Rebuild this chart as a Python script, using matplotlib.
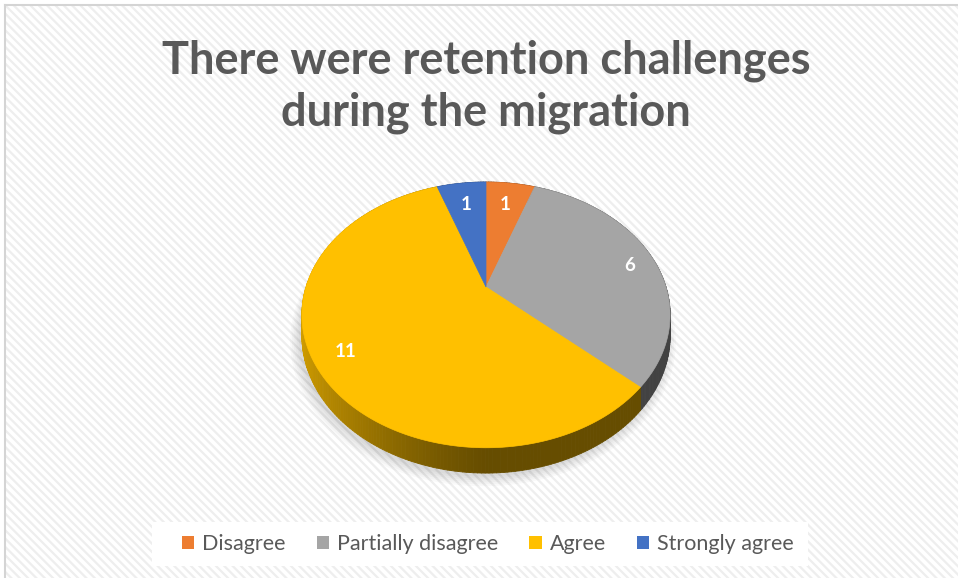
import matplotlib
matplotlib.use('Agg')
import matplotlib.pyplot as plt
import numpy as np
from matplotlib.patches import Polygon, Rectangle, Patch
from matplotlib.collections import PolyCollection

plt.rcParams['font.family'] = ['Lato', 'DejaVu Sans']
plt.rcParams['hatch.linewidth'] = 1.6

# ---------------- data ----------------
categories = ['Disagree', 'Partially disagree', 'Agree', 'Strongly agree']
values = [1, 6, 11, 1]
colors = ['#ED7D31', '#A5A5A5', '#FFC000', '#4472C4']
title = 'There were retention challenges\nduring the migration'

# ---------------- pie geometry (pixels) ----------------
W, H = 958, 578
cx, cy = 486, 287      # apex of the pie on screen
R, Ry = 180, 127       # horizontal / depth radius
k = 0.21               # perspective strength
D = 20                 # thickness of the pie
label_r = [0.76, 0.86, 0.84, 0.76]


def proj(x, y, z=0.0):
    w = 1 + k * y
    return cx + R * x / w, cy - Ry * y / w + z / w


def side_shade(t):
    nx = np.sin(t)
    return 0.40 + 0.43 * max(0.0, -nx) ** 1.2


fig = plt.figure(figsize=(W / 100, H / 100), dpi=100)
ax = fig.add_axes([0, 0, 1, 1])
ax.set_xlim(0, W)
ax.set_ylim(H, 0)
ax.axis('off')

# background with diagonal stripes and light border
ax.add_patch(Rectangle((0, 0), W, H, facecolor='white', edgecolor='none', zorder=0))
ax.add_patch(Rectangle((5, 5), W, H, facecolor='white', edgecolor='#EEEEEE',
                       hatch='\\\\\\\\', linewidth=0, zorder=0.5))
ax.plot([5, 5], [H, 5], color='#D4D4D4', lw=1.5, zorder=1)
ax.plot([5, W], [5, 5], color='#D4D4D4', lw=1.5, zorder=1)

# title
ax.text(486, 87, title, ha='center', va='center', fontsize=32.5, fontweight='bold',
        color='#595959', linespacing=1.28, zorder=5)

# angles (clockwise from 12 o'clock)
total = sum(values)
edges = np.concatenate([[0], np.cumsum(values)]) / total * 2 * np.pi

# soft shadow around the pie
tt = np.linspace(0, 2 * np.pi, 300)
for i, s in enumerate(np.linspace(1.045, 1.0, 6)):
    pts = []
    for t in tt:
        x, y = proj(s * np.sin(t), s * np.cos(t), D + 2)
        pts.append((x - 3, y + 1))
    ax.add_patch(Polygon(pts, closed=True, facecolor='#000000', alpha=0.025,
                         edgecolor='none', zorder=2))

# side walls
quads, qcols = [], []
for i in range(len(values)):
    ts = np.linspace(edges[i], edges[i + 1], max(4, int(values[i] * 20)))
    base = np.array(matplotlib.colors.to_rgb(colors[i]))
    for a, b in zip(ts[:-1], ts[1:]):
        p1 = proj(np.sin(a), np.cos(a))
        p2 = proj(np.sin(b), np.cos(b))
        p3 = proj(np.sin(b), np.cos(b), D)
        p4 = proj(np.sin(a), np.cos(a), D)
        quads.append([p1, p2, p3, p4])
        qcols.append(base * side_shade(0.5 * (a + b)))
ax.add_collection(PolyCollection(quads, facecolors=qcols, edgecolors=qcols,
                                 linewidths=0.6, zorder=3))

# top faces
for i in range(len(values)):
    ts = np.linspace(edges[i], edges[i + 1], max(4, int(values[i] * 20)))
    pts = [(cx, cy)] + [proj(np.sin(t), np.cos(t)) for t in ts]
    ax.add_patch(Polygon(pts, closed=True, facecolor=colors[i], edgecolor=colors[i],
                         linewidth=0.5, zorder=4))
    mid = 0.5 * (edges[i] + edges[i + 1])
    lx, ly = proj(label_r[i] * np.sin(mid), label_r[i] * np.cos(mid))
    if i == 1:
        ly += 4
    ax.text(lx, ly, str(values[i]), ha='center', va='center', color='white',
            fontsize=13.5, fontweight='bold', zorder=6)

# legend
ax.add_patch(Rectangle((152, 522), 656, 44, facecolor='white', edgecolor='none', zorder=5))
handles = [Patch(facecolor=c, edgecolor='none') for c in colors]
leg = ax.legend(handles, categories, loc='center', bbox_to_anchor=(488 / W, 1 - 544 / H),
                ncol=4, fontsize=15.5, frameon=False,
                handlelength=0.56, handleheight=0.56, handletextpad=0.37,
                columnspacing=1.45, borderpad=0.3, labelcolor='#595959')
leg.set_zorder(6)

fig.savefig('out.png', dpi=100)
